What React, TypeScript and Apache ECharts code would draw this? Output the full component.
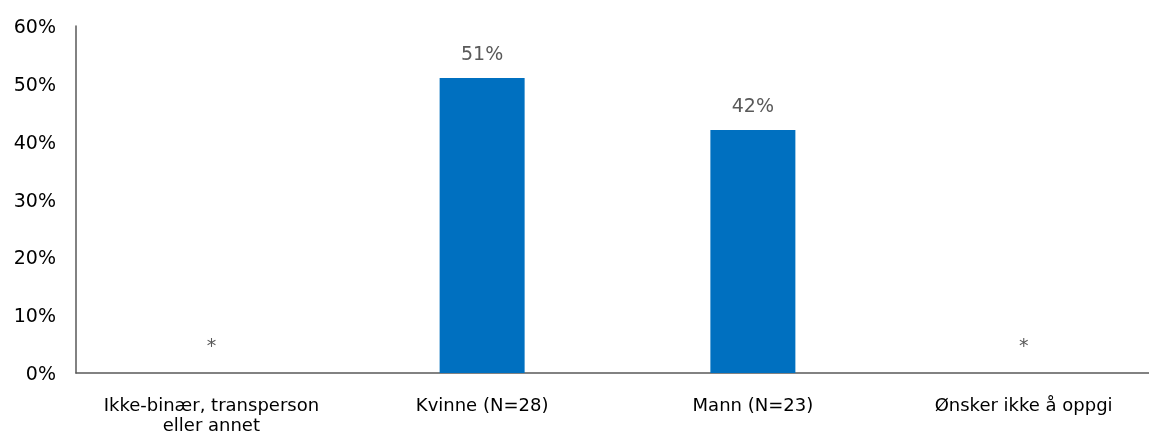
import React, { useEffect, useRef } from "react";
import * as echarts from "echarts";

const categories = ["Ikke-binær, transperson\neller annet", "Kvinne (N=28)", "Mann (N=23)", "Ønsker ikke å oppgi"];
const values = [0, 51, 42, 0];
const suppressed = [true, false, false, true];
const yTicks = [0, 10, 20, 30, 40, 50, 60];

const FONT = "'DejaVu Sans', sans-serif";

export default function App() {
  const ref = useRef<HTMLDivElement>(null);
  useEffect(() => {
    if (!ref.current) return;
    const chart = echarts.init(ref.current, undefined, { renderer: "svg" });
    chart.setOption({
      animation: false,
      grid: { left: 76, top: 26, bottom: 62, right: 1, containLabel: false, outerBoundsMode: "none" },
      xAxis: {
        type: "category",
        data: categories,
        axisLine: { show: true, lineStyle: { color: "#595959", width: 1.5 } },
        axisTick: { show: false },
        axisLabel: { color: "#000", fontSize: 18, fontFamily: FONT, margin: 21, lineHeight: 20, interval: 0 },
      },
      yAxis: {
        type: "value",
        min: yTicks[0],
        max: yTicks[yTicks.length - 1],
        interval: 10,
        axisLine: { show: true, lineStyle: { color: "#595959", width: 1.5 } },
        axisTick: { show: false },
        splitLine: { show: false },
        axisLabel: { color: "#000", fontSize: 19, fontFamily: FONT, margin: 20, formatter: (v: number) => v + "%" },
      },
      series: [
        {
          type: "bar",
          barWidth: 85,
          itemStyle: { color: "#0070C0" },
          data: values.map((v, i) => ({
            value: v,
            label: suppressed[i] ? { distance: 19, fontSize: 19 } : undefined,
          })),
          label: {
            show: true,
            position: "top",
            distance: 16,
            color: "#595959",
            fontSize: 19,
            fontFamily: FONT,
            formatter: (p: any) => (suppressed[p.dataIndex] ? "*" : p.value + "%"),
          },
        },
      ],
    });
    return () => chart.dispose();
  }, []);
  return (
    <div style={{ position: "fixed", left: 0, top: 0, width: 1149, height: 435, overflow: "hidden" }}>
      <div ref={ref} style={{ width: 1160, height: 435 }} />
    </div>
  );
}
